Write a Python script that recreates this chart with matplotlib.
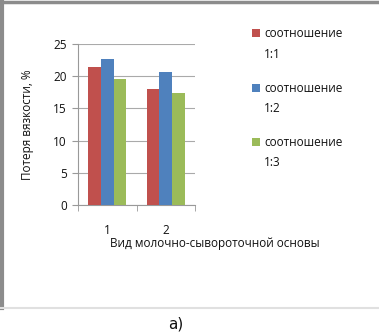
import matplotlib
matplotlib.use("Agg")
import matplotlib.pyplot as plt
from matplotlib.patches import Rectangle
from matplotlib.lines import Line2D
import numpy as np

categories = ["1", "2"]
series_names = ["соотношение\n1:1", "соотношение\n1:2", "соотношение\n1:3"]
values_11 = [21.5, 18.0]
values_12 = [22.7, 20.6]
values_13 = [19.6, 17.4]
y_ticks = [0, 5, 10, 15, 20, 25]
colors = ["#C0504D", "#4F81BD", "#9BBB59"]

plt.rcParams['font.family'] = ['Open Sans', 'DejaVu Sans']

fig = plt.figure(figsize=(3.79, 3.36), dpi=100)
W, H = 379, 336

ax = fig.add_axes([78 / W, 1 - 205 / H, 117 / W, 161 / H])
x = np.arange(1, len(categories) + 1)
bw = 0.215
series = [values_11, values_12, values_13]
for i, (vals, c) in enumerate(zip(series, colors)):
    ax.bar(x + (i - 1) * bw, vals, width=bw, color=c, zorder=3, linewidth=0)

ax.set_xlim(0.5, 2.5)
ax.set_ylim(0, 25)
ax.set_yticks(y_ticks)
ax.set_yticklabels([str(t) for t in y_ticks], fontsize=8.5, color="#111111")
ax.set_xticks(x)
ax.set_xticklabels(categories, fontsize=8.5, color="#111111")
ax.tick_params(axis='x', length=0, pad=14)
ax.set_xticks([0.5, 1.5, 2.5], minor=True)
ax.tick_params(axis='x', which='minor', length=4, color="#999999", direction='out')
ax.tick_params(axis='y', length=4, color="#999999", direction='out', pad=4)
ax.grid(axis='y', color="#AAAAAA", linewidth=0.8, zorder=0)
for s in ['top', 'right']:
    ax.spines[s].set_visible(False)
for s in ['left', 'bottom']:
    ax.spines[s].set_color("#999999")
    ax.spines[s].set_linewidth(0.8)

ax.set_ylabel("Потеря вязкости, %", fontsize=8.5, color="#111111", labelpad=14)
fig.text(215 / W, 1 - 244 / H, "Вид молочно-сывороточной основы", fontsize=8.5,
         ha='center', va='center', color="#111111")

# legend
leg_y = [33, 88, 142]
for name, c, yy in zip(series_names, colors, leg_y):
    fig.add_artist(Rectangle((252 / W, 1 - (yy + 4) / H), 8 / W, 8 / H,
                             transform=fig.transFigure, color=c, lw=0))
    fig.text(264 / W, 1 - (yy - 6) / H, name, fontsize=8.5, ha='left', va='top',
             color="#111111", linespacing=1.75)

# frame
fig.add_artist(Line2D([0, 1], [1 - 1.5 / H, 1 - 1.5 / H], transform=fig.transFigure,
                      color="#8C8C8C", lw=2.5))
fig.add_artist(Line2D([1.5 / W, 1.5 / W], [1, 1 - 308 / H], transform=fig.transFigure,
                      color="#8C8C8C", lw=3))
fig.add_artist(Line2D([0, 1], [1 - 308 / H, 1 - 308 / H], transform=fig.transFigure,
                      color="#E0E0E0", lw=1.5))

fig.text(176 / W, 1 - 324 / H, "а)", fontsize=11, ha='center', va='center', color="#111111",
         family=['DejaVu Sans'])

fig.savefig("out.png", dpi=100)
